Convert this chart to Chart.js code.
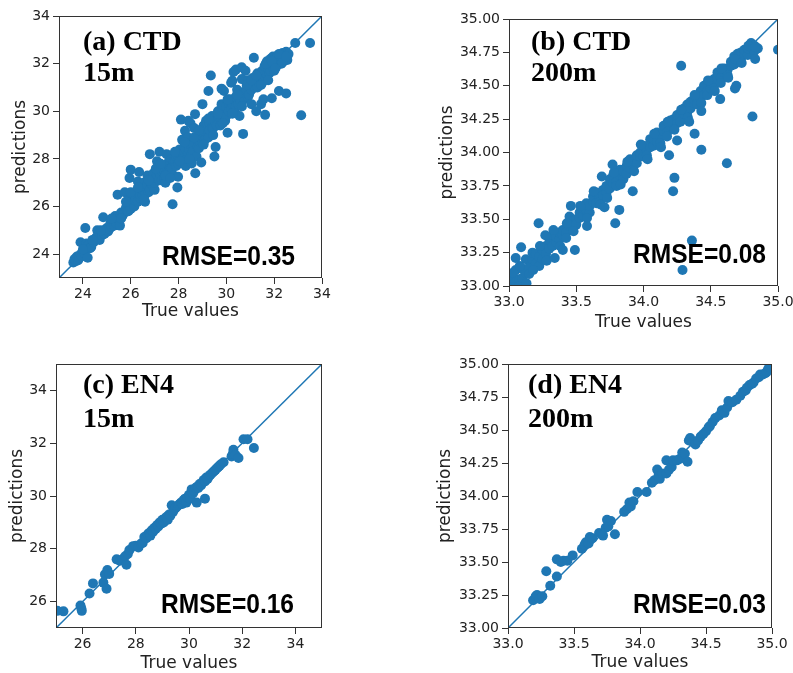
<!DOCTYPE html>
<html>
<head>
<meta charset="utf-8">
<script src="https://cdn.jsdelivr.net/npm/chart.js@4.4.0/dist/chart.umd.min.js"></script>
<style>
  html, body { margin: 0; padding: 0; background: #fff; overflow: hidden; }
  #wrap { position: relative; width: 793px; height: 673px; }
  canvas { position: absolute; }
</style>
</head>
<body>
<div id="wrap">
  <canvas id="c0"></canvas>
  <canvas id="c1"></canvas>
  <canvas id="c2"></canvas>
  <canvas id="c3"></canvas>
</div>
<script>
// [true value, prediction] pairs
const ctd15 = [
  [23.6,23.65],[23.65,23.8],[23.7,23.7],[23.75,23.9],[23.8,23.75],[23.85,23.85],[23.9,24.0],[23.95,23.9],
  [24.05,24.05],[24.2,23.85],[23.9,24.5],[24.15,24.45],[24.2,24.35],[24.1,25.1],[24.3,24.25],[24.35,24.3],
  [24.45,24.5],[24.55,24.7],[24.6,25.0],[24.65,24.8],[24.7,24.6],[24.8,24.8],[24.85,25.55],[24.9,25.0],
  [24.9,24.85],[25.0,25.1],[25.05,24.95],[25.1,25.05],[25.15,25.3],[25.2,25.15],[25.3,25.4],[25.3,25.2],
  [25.35,25.6],[25.4,25.3],[25.5,25.5],[25.5,25.4],[25.55,25.2],[25.45,26.5],[25.6,25.75],[25.65,25.6],
  [25.7,25.7],[25.75,26.6],[25.8,25.95],[25.85,25.8],[25.9,26.1],[25.9,25.8],[25.95,26.3],[26.0,25.9],
  [26.05,26.2],[25.95,27.2],[26.0,27.55],[26.1,26.4],[26.1,26.1],[26.15,26.0],[26.2,26.25],[26.2,26.4],
  [26.25,26.6],[26.3,27.05],[26.3,26.2],[26.35,27.45],[26.4,26.35],[26.4,26.5],[26.45,26.75],[26.5,26.5],
  [26.5,26.7],[26.55,27.0],[26.6,26.2],[26.6,26.5],[26.65,26.8],[26.7,27.3],[26.7,26.9],[26.75,26.6],
  [26.8,28.2],[26.8,26.7],[26.85,27.0],[26.9,26.9],[26.9,27.2],[26.95,27.4],[27.0,26.7],[27.0,27.0],
  [27.05,27.2],[27.1,27.9],[27.1,27.3],[27.15,27.5],[27.2,28.3],[27.2,27.1],[27.25,27.3],[27.3,27.1],
  [27.3,27.5],[27.35,27.7],[27.4,27.5],[27.4,27.2],[27.45,27.0],[27.5,28.2],[27.5,27.4],[27.55,27.8],
  [27.6,27.45],[27.6,27.9],[27.65,27.6],[27.7,28.0],[27.7,27.6],[27.75,26.1],[27.8,27.3],[27.8,27.9],
  [27.85,27.9],[27.9,28.1],[27.9,27.7],[27.95,26.8],[27.98,27.25],[28.0,27.8],[28.0,28.1],[28.05,28.4],
  [28.1,29.65],[28.1,28.3],[28.15,28.8],[28.2,28.2],[28.2,28.0],[28.25,28.5],[28.27,29.18],[28.3,27.7],
  [28.3,28.4],[28.35,28.0],[28.4,28.9],[28.4,28.2],[28.41,29.6],[28.45,28.4],[28.5,29.5],[28.5,28.6],
  [28.55,28.2],[28.55,27.81],[28.6,28.6],[28.6,28.3],[28.65,29.3],[28.69,29.88],[28.7,27.4],[28.7,28.9],
  [28.75,28.1],[28.8,28.8],[28.8,28.5],[28.85,28.45],[28.9,29.1],[28.9,28.7],[28.95,27.85],[29.0,30.3],
  [29.0,28.7],[29.0,29.0],[29.05,29.4],[29.1,29.0],[29.1,28.8],[29.15,29.6],[29.2,29.2],[29.2,29.5],
  [29.25,28.9],[29.25,30.85],[29.3,29.5],[29.3,29.2],[29.35,31.5],[29.4,29.8],[29.4,29.3],[29.45,29.3],
  [29.5,28.1],[29.5,29.6],[29.55,28.5],[29.6,29.6],[29.6,29.4],[29.65,30.0],[29.7,29.75],[29.7,30.0],
  [29.75,29.4],[29.8,30.3],[29.8,29.7],[29.8,30.95],[29.85,29.9],[29.9,30.85],[29.9,29.9],[29.95,29.6],
  [30.0,30.2],[30.0,29.8],[30.05,29.1],[30.1,30.0],[30.1,30.35],[30.15,30.5],[30.2,31.2],[30.2,30.1],
  [30.25,30.3],[30.25,31.28],[30.3,31.65],[30.3,30.5],[30.35,30.0],[30.4,30.6],[30.4,30.2],[30.4,31.75],
  [30.45,30.9],[30.5,30.3],[30.5,30.6],[30.55,29.8],[30.6,30.7],[30.6,30.4],[30.64,31.85],[30.65,31.35],
  [30.7,29.05],[30.7,30.8],[30.75,30.5],[30.8,31.7],[30.85,30.9],[30.9,31.3],[30.9,30.6],[30.95,30.7],
  [31.0,31.1],[31.05,30.3],[31.05,30.9],[31.1,31.4],[31.15,32.25],[31.2,31.0],[31.2,31.35],[31.25,30.0],
  [31.3,31.6],[31.3,31.0],[31.35,31.2],[31.4,31.5],[31.45,30.3],[31.5,31.7],[31.5,31.2],[31.55,30.5],
  [31.55,31.3],[31.6,31.9],[31.62,29.85],[31.65,31.4],[31.7,32.1],[31.7,31.55],[31.75,31.8],[31.8,31.6],
  [31.8,32.0],[31.85,32.2],[31.85,31.7],[31.9,30.55],[31.9,31.95],[31.95,32.3],[31.95,31.85],[32.0,31.7],
  [32.0,32.2],[32.05,32.1],[32.1,31.9],[32.1,32.25],[32.15,32.35],[32.2,30.85],[32.2,32.1],[32.25,32.2],
  [32.3,32.0],[32.3,32.35],[32.35,32.45],[32.4,32.3],[32.4,32.2],[32.45,32.4],[32.5,30.75],[32.5,32.5],
  [32.55,32.15],[32.6,32.4],[32.88,32.87],[33.5,32.87],[33.13,29.83],
  [24.0,24.2],[24.4,24.6],[24.75,25.0],[25.2,25.5],[25.6,25.5],[25.8,26.2],[26.0,26.6],[26.3,26.8],
  [26.55,26.3],[26.75,27.1],[27.05,27.6],[27.25,27.8],[27.45,27.3],[27.65,27.2],[27.85,28.3],[28.05,27.9],
  [28.25,28.7],[28.45,28.0],[28.65,28.9],[28.85,29.2],[29.05,28.6],[29.25,29.7],[29.45,29.0],[29.65,29.9],
  [29.85,29.5],[30.05,30.5],[30.25,29.9],[30.45,30.7],[30.65,30.2],[30.85,31.1],[31.05,31.3],[31.25,31.5],
  [31.45,31.1],[31.65,32.0],[31.75,31.3],[31.9,32.1],[32.05,31.8],[32.2,32.4],[32.35,32.05],[32.5,32.3]
];

const ctd200 = [
  [33.0,33.02],[33.0,33.06],[33.025,32.99],[33.025,33.08],[33.05,33.03],[33.05,33.12],[33.075,33.05],[33.075,33.0],
  [33.1,33.13],[33.1,33.06],[33.125,33.1],[33.125,33.2],[33.15,33.14],[33.15,33.09],[33.175,33.2],[33.175,33.25],
  [33.2,33.17],[33.2,33.24],[33.225,33.22],[33.225,33.15],[33.25,33.27],[33.25,33.2],[33.275,33.3],[33.275,33.24],
  [33.3,33.28],[33.3,33.35],[33.325,33.3],[33.325,33.38],[33.35,33.33],[33.35,33.37],[33.375,33.35],[33.375,33.4],
  [33.4,33.38],[33.4,33.42],[33.425,33.4],[33.425,33.36],[33.45,33.45],[33.45,33.52],[33.475,33.44],[33.475,33.49],
  [33.5,33.5],[33.5,33.46],[33.525,33.55],[33.525,33.51],[33.55,33.53],[33.55,33.58],[33.575,33.57],[33.575,33.62],
  [33.6,33.55],[33.6,33.6],[33.625,33.63],[33.625,33.67],[33.65,33.62],[33.65,33.7],[33.675,33.66],[33.675,33.63],
  [33.7,33.72],[33.7,33.68],[33.725,33.7],[33.725,33.75],[33.75,33.73],[33.75,33.8],[33.775,33.77],[33.775,33.83],
  [33.8,33.78],[33.8,33.75],[33.825,33.83],[33.825,33.87],[33.85,33.8],[33.85,33.86],[33.875,33.9],[33.875,33.84],
  [33.9,33.88],[33.9,33.95],[33.925,33.93],[33.925,33.9],[33.95,33.92],[33.95,33.98],[33.975,33.97],[33.975,34.0],
  [34.0,33.97],[34.0,34.05],[34.025,34.02],[34.025,33.98],[34.05,34.04],[34.05,34.1],[34.075,34.05],[34.075,34.1],
  [34.1,34.08],[34.1,34.15],[34.125,34.12],[34.125,34.07],[34.15,34.16],[34.15,34.2],[34.175,34.15],[34.175,34.12],
  [34.2,34.2],[34.2,34.24],[34.225,34.2],[34.225,34.25],[34.25,34.22],[34.25,34.28],[34.275,34.27],[34.275,34.23],
  [34.3,34.29],[34.3,34.33],[34.325,34.3],[34.325,34.36],[34.35,34.33],[34.35,34.38],[34.375,34.37],[34.375,34.4],
  [34.4,34.4],[34.4,34.36],[34.425,34.42],[34.425,34.46],[34.45,34.43],[34.45,34.5],[34.475,34.46],[34.475,34.43],
  [34.5,34.48],[34.5,34.52],[34.525,34.5],[34.525,34.55],[34.55,34.55],[34.55,34.6],[34.575,34.56],[34.575,34.52],
  [34.6,34.6],[34.6,34.63],[34.625,34.62],[34.625,34.58],[34.65,34.65],[34.65,34.68],[34.675,34.66],[34.675,34.72],
  [34.7,34.69],[34.7,34.74],[34.725,34.7],[34.725,34.75],[34.75,34.74],[34.75,34.77],[34.775,34.73],[34.775,34.78],
  [34.8,34.79],[34.8,34.82],[34.825,34.8],[34.825,34.76],[34.85,34.78],
  [33.03,33.1],[33.08,33.15],[33.13,33.02],[33.18,33.12],[33.23,33.3],[33.28,33.19],[33.33,33.42],[33.38,33.3],
  [33.43,33.47],[33.48,33.41],[33.53,33.6],[33.58,33.51],[33.63,33.71],[33.68,33.61],[33.73,33.66],[33.78,33.85],
  [33.83,33.76],[33.88,33.93],[33.93,33.86],[33.98,34.06],[34.03,33.95],[34.08,34.14],[34.13,34.04],[34.18,34.23],
  [34.23,34.17],[34.28,34.32],[34.33,34.26],[34.38,34.43],[34.43,34.37],[34.48,34.54],[34.53,34.46],[34.58,34.63],
  [34.63,34.56],[34.68,34.7],[34.73,34.67],[34.78,34.8],[34.83,34.79],
  [34.28,34.65],[35.0,34.77],[34.83,34.7],[34.81,34.27],[34.57,34.4],[34.68,34.48],[34.69,34.5],[34.62,33.92],
  [34.43,34.02],[34.38,34.14],[34.19,33.98],[34.23,33.81],[34.22,33.71],[34.36,33.34],[34.29,33.12],[34.34,34.23],
  [34.43,34.31],[34.25,34.09],[33.92,33.71],[33.82,33.57],[33.79,33.47],[33.71,33.59],[33.58,33.45],[33.49,33.27],
  [33.22,33.47],[33.4,33.27],[33.34,33.21],[33.05,33.21],[33.09,33.29],[33.77,33.91],[33.69,33.82],[33.46,33.6],
  [33.27,33.38]
];

const en415 = [
  [25.05,25.65],[25.28,25.63],[25.92,25.85],[25.97,25.65],[25.95,25.75],[26.26,26.31],[26.39,26.69],[26.78,26.72],
  [26.9,26.49],[26.84,27.03],[26.93,27.2],[27.0,27.05],[27.28,27.6],[27.4,27.55],[27.5,27.6],[27.65,27.4],
  [27.6,27.72],[27.7,27.8],[27.76,27.95],[27.9,28.1],[28.0,28.12],[28.1,28.05],[28.2,28.2],[28.26,28.22],
  [28.32,28.45],[28.4,28.4],[28.45,28.55],[28.5,28.6],[28.55,28.5],[28.6,28.7],[28.65,28.65],[28.7,28.8],
  [28.75,28.75],[28.8,28.9],[28.85,28.85],[28.9,29.0],[28.95,28.95],[29.0,29.1],[29.05,29.0],[29.1,29.15],
  [29.15,29.2],[29.2,29.1],[29.25,29.3],[29.3,29.25],[29.35,29.65],[29.4,29.4],[29.45,29.5],[29.5,29.55],
  [29.55,29.6],[29.6,29.65],[29.65,29.7],[29.7,29.75],[29.75,29.7],[29.8,29.85],[29.85,29.9],[29.9,29.75],
  [29.95,29.95],[30.0,30.05],[30.05,29.9],[30.1,30.25],[30.15,30.1],[30.2,30.2],[30.25,30.3],[30.29,29.75],
  [30.3,30.35],[30.35,30.3],[30.4,30.45],[30.45,30.4],[30.5,30.5],[30.55,30.6],[30.6,29.9],[30.6,30.55],
  [30.65,30.7],[30.7,30.65],[30.75,30.75],[30.8,30.8],[30.85,30.85],[30.9,30.9],[30.95,30.95],[31.0,31.0],
  [31.05,31.05],[31.1,31.1],[31.15,31.15],[31.2,31.2],[31.3,31.28],[31.6,31.5],[31.65,31.6],[31.67,31.75],
  [31.75,31.55],[31.86,31.44],[32.05,32.15],[32.2,32.15],[32.44,31.82]
];

const en4200 = [
  [33.19,33.21],[33.21,33.24],[33.22,33.25],[33.24,33.22],[33.26,33.24],[33.29,33.43],[33.32,33.32],[33.37,33.52],
  [33.37,33.39],[33.4,33.5],[33.42,33.51],[33.45,33.51],[33.49,33.55],[33.56,33.6],[33.58,33.63],[33.59,33.65],
  [33.61,33.64],[33.62,33.69],[33.64,33.68],[33.69,33.72],[33.72,33.7],[33.74,33.76],[33.75,33.82],[33.76,33.77],
  [33.78,33.81],[33.81,33.71],[33.88,33.88],[33.9,33.9],[33.92,33.95],[33.93,33.92],[33.95,33.96],[33.98,34.03],
  [34.05,34.03],[34.09,34.1],[34.11,34.12],[34.13,34.2],[34.14,34.15],[34.15,34.13],[34.17,34.17],[34.2,34.17],
  [34.2,34.27],[34.22,34.2],[34.24,34.22],[34.25,34.27],[34.28,34.27],[34.3,34.28],[34.32,34.33],[34.34,34.32],
  [34.36,34.26],[34.37,34.42],[34.38,34.44],[34.4,34.41],[34.42,34.39],[34.44,34.42],[34.46,34.45],[34.48,34.47],
  [34.5,34.49],[34.52,34.52],[34.53,34.53],[34.55,34.56],[34.57,34.59],[34.6,34.61],[34.62,34.65],[34.64,34.63],
  [34.66,34.67],[34.67,34.72],[34.7,34.71],[34.73,34.73],[34.76,34.76],[34.78,34.79],[34.8,34.8],[34.81,34.82],
  [34.83,34.84],[34.85,34.85],[34.86,34.86],[34.88,34.89],[34.9,34.9],[34.91,34.92],[34.93,34.92],[34.95,34.93],
  [34.96,34.94],[34.97,34.96],[34.98,34.98],[34.99,34.97]
];

const ctd15Ticks = ['24', '26', '28', '30', '32', '34'];
const en415Ticks = ['26', '28', '30', '32', '34'];
const deepXTicks = ['33.0', '33.5', '34.0', '34.5', '35.0'];
const deepYTicks = ['33.00', '33.25', '33.50', '33.75', '34.00', '34.25', '34.50', '34.75', '35.00'];

const panelTitles = [['(a) CTD', '15m'], ['(b) CTD', '200m'], ['(c) EN4', '15m'], ['(d) EN4', '200m']];
const rmseLabels = ['RMSE=0.35', 'RMSE=0.08', 'RMSE=0.16', 'RMSE=0.03'];

const blue = '#1f77b4';
const tickFont = {family: 'DejaVu Sans', size: 14};
const titleFont = {family: 'DejaVu Sans', size: 17};

const panels = [
  {points: ctd15, range: [23, 34], xTicks: ctd15Ticks, yTicks: ctd15Ticks,
   box: [0, 0, 396, 330], yAxisW: 59, padTop: 16, padRight: 74, xAxisH: 52, xTitlePad: 8, yTitlePad: 10,
   titleAt: [24, 34, 65], rmseAt: [27, 13]},
  {points: ctd200, range: [33, 35], xTicks: deepXTicks, yTicks: deepYTicks,
   box: [396, 0, 397, 340], yAxisW: 113, padTop: 19, padRight: 15, xAxisH: 54, xTitlePad: 7, yTitlePad: 41,
   titleAt: [22, 31, 62], rmseAt: [12, 23]},
  {points: en415, range: [25, 35], xTicks: en415Ticks, yTicks: en415Ticks,
   box: [0, 330, 396, 360], yAxisW: 56, padTop: 34, padRight: 74, xAxisH: 62, xTitlePad: 16, yTitlePad: 7,
   titleAt: [27, 29, 63], rmseAt: [28, 15]},
  {points: en4200, range: [33, 35], xTicks: deepXTicks, yTicks: deepYTicks,
   box: [396, 330, 397, 360], yAxisW: 112, padTop: 34, padRight: 21, xAxisH: 62, xTitlePad: 17, yTitlePad: 39,
   titleAt: [20, 29, 63], rmseAt: [6, 15]}
];

panels.forEach((p, i) => {
  const canvas = document.getElementById('c' + i);
  canvas.width = p.box[2];
  canvas.height = p.box[3];
  canvas.style.left = p.box[0] + 'px';
  canvas.style.top = p.box[1] + 'px';

  // frame round the plot, panel name and RMSE
  const decor = {
    id: 'decor' + i,
    afterDraw(chart) {
      const {ctx, chartArea: a} = chart;
      ctx.save();
      ctx.strokeStyle = '#333';
      ctx.lineWidth = 1;
      ctx.strokeRect(Math.round(a.left) + 0.5, Math.round(a.top) + 0.5,
        Math.round(a.right - a.left) - 1, Math.round(a.bottom - a.top) - 1);

      ctx.fillStyle = '#000';
      ctx.textBaseline = 'alphabetic';
      ctx.font = 'bold 28px "Liberation Serif"';
      ctx.fillText(panelTitles[i][0], a.left + p.titleAt[0], a.top + p.titleAt[1]);
      ctx.fillText(panelTitles[i][1], a.left + p.titleAt[0], a.top + p.titleAt[2]);

      ctx.font = 'bold 28px "Liberation Sans"';
      const w = ctx.measureText(rmseLabels[i]).width;
      ctx.translate(a.right - p.rmseAt[0], a.bottom - p.rmseAt[1]);
      ctx.scale(133 / w, 1);
      ctx.textAlign = 'right';
      ctx.fillText(rmseLabels[i], 0, 0);
      ctx.restore();
    }
  };

  new Chart(canvas, {
    type: 'scatter',
    data: {
      datasets: [
        {
          data: p.points.map(([x, y]) => ({x, y})),
          backgroundColor: blue,
          pointRadius: 5,
          pointHoverRadius: 5,
          borderWidth: 0
        },
        {
          type: 'line',
          data: [{x: p.range[0], y: p.range[0]}, {x: p.range[1], y: p.range[1]}],
          borderColor: blue,
          borderWidth: 1.5,
          pointRadius: 0,
          showLine: true
        }
      ]
    },
    options: {
      responsive: false,
      animation: false,
      devicePixelRatio: 1,
      layout: {padding: {left: 0, top: p.padTop, right: p.padRight, bottom: 0}},
      plugins: {legend: {display: false}, tooltip: {enabled: false}},
      scales: {
        x: {
          type: 'linear',
          min: p.range[0],
          max: p.range[1],
          afterBuildTicks: s => { s.ticks = p.xTicks.map(t => ({value: parseFloat(t)})); },
          afterFit: s => { s.height = p.xAxisH; s.paddingLeft = 0; s.paddingRight = 0; },
          ticks: {callback: (v, idx) => p.xTicks[idx], font: tickFont, color: '#222', padding: 2, maxRotation: 0, autoSkip: false},
          grid: {drawOnChartArea: false, tickLength: 6, color: '#333'},
          border: {display: false},
          title: {display: true, text: 'True values', font: titleFont, color: '#222', padding: {top: 0, bottom: p.xTitlePad}}
        },
        y: {
          type: 'linear',
          min: p.range[0],
          max: p.range[1],
          afterBuildTicks: s => { s.ticks = p.yTicks.map(t => ({value: parseFloat(t)})); },
          afterFit: s => { s.width = p.yAxisW; s.paddingTop = 0; s.paddingBottom = 0; },
          ticks: {callback: (v, idx) => p.yTicks[idx], font: tickFont, color: '#222', padding: 3, autoSkip: false},
          grid: {drawOnChartArea: false, tickLength: 6, color: '#333'},
          border: {display: false},
          title: {display: true, text: 'predictions', font: titleFont, color: '#222', padding: {top: p.yTitlePad, bottom: 0}}
        }
      }
    },
    plugins: [decor]
  });
});
</script>
</body>
</html>
